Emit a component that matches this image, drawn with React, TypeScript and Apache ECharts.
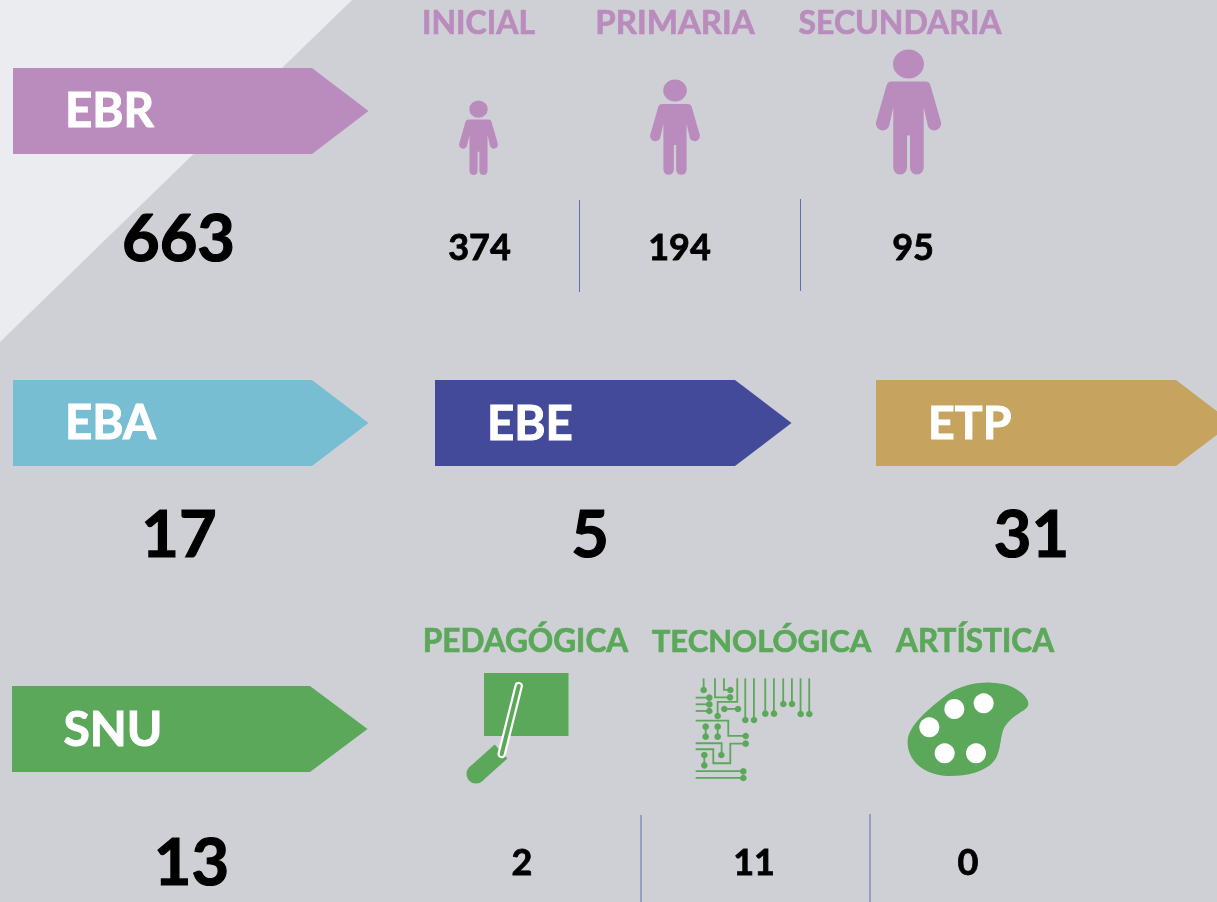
import React, { useEffect, useRef } from "react";
import * as echarts from "echarts";

const arrowLabels = ["EBR", "EBA", "EBE", "ETP", "SNU"];
const arrowTotals = [663, 17, 5, 31, 13];
const ebrLevels = ["INICIAL", "PRIMARIA", "SECUNDARIA"];
const ebrValues = [374, 194, 95];
const snuLevels = ["PEDAGÓGICA", "TECNOLÓGICA", "ARTÍSTICA"];
const snuValues = [2, 11, 0];

const BG = "#CFD0D5";
const LIGHT = "#EBECEF";
const PURPLE = "#BA8CBE";
const TEAL = "#78BED2";
const BLUE = "#444A9A";
const GOLD = "#C6A45F";
const GREEN = "#5BA85A";
const RULE = "#5F6FB0";
const FONT = "Lato";

const PERSON =
  "M-15.5 14.5A15.5 14.5 0 1 1 15.5 14.5A15.5 14.5 0 1 1 -15.5 14.5Z" +
  "M-17 32L17 32Q21 32 22 36L32 71A6.8 6.8 0 0 1 19.5 77L15.2 58L15.2 118.5A6.9 7.5 0 0 1 1.5 118.5L1.5 86L-1.5 86L-1.5 118.5A6.9 7.5 0 0 1 -15.2 118.5L-15.2 58L-19.5 77A6.8 6.8 0 0 1 -32 71L-22 36Q-21 32 -17 32Z";
const PALETTE =
  "M53 212C55 170 110 120 170 75C215 42 280 30 340 42C385 52 420 85 415 105C410 125 370 130 345 170C330 195 335 235 318 265C295 305 230 320 170 318C100 315 50 270 53 212Z";

echarts.graphic.registerShape("person", echarts.graphic.extendPath(PERSON, {}));
echarts.graphic.registerShape("palette", echarts.graphic.extendPath(PALETTE, {}));

const circuitLines: number[][][] = [
  [[71, 55], [71, 90]],
  [[105, 55], [105, 112], [150, 112]],
  [[132, 55], [132, 90], [151, 90]],
  [[172, 55], [172, 126], [113, 126], [113, 168]],
  [[133, 147], [174, 147]],
  [[196, 55], [196, 180]],
  [[222, 55], [222, 180]],
  [[256, 55], [256, 161]],
  [[282, 55], [282, 161]],
  [[310, 55], [310, 132]],
  [[336, 55], [336, 132]],
  [[362, 55], [362, 162]],
  [[388, 55], [388, 162]],
  [[47, 113], [88, 113]],
  [[47, 133], [88, 133]],
  [[47, 153], [88, 153]],
  [[47, 182], [145, 182], [145, 228], [197, 228]],
  [[77, 200], [77, 230]],
  [[113, 200], [113, 230]],
  [[47, 250], [125, 250], [125, 285]],
  [[47, 268], [100, 268], [100, 310], [151, 310], [151, 251], [197, 251]],
  [[73, 285], [73, 316]],
  [[47, 334], [190, 334]],
  [[47, 354], [190, 354]],
];
const circuitDots: number[][] = [
  [71, 90], [150, 112], [151, 90], [113, 168], [133, 147], [174, 147],
  [196, 180], [222, 180], [256, 161], [282, 161], [310, 132], [336, 132],
  [362, 162], [388, 162], [88, 113], [88, 133], [88, 153], [197, 228],
  [77, 200], [77, 230], [113, 200], [113, 230], [124, 285], [197, 251],
  [73, 285], [73, 316], [190, 334], [190, 354],
];

const arrow = (x: number, y: number, w: number, tip: number, h: number, fill: string) => ({
  type: "polygon",
  shape: { points: [[x, y], [x + w, y], [x + w + tip, y + h / 2], [x + w, y + h], [x, y + h]] },
  style: { fill },
});
const text = (t: string | number, x: number, y: number, size: number, fill: string, align = "center", bold = 0.7) => ({
  type: "text",
  x,
  y,
  z: 5,
  style: {
    text: String(t),
    fill,
    stroke: fill,
    lineWidth: bold,
    font: `700 ${size}px ${FONT}`,
    textAlign: align,
    textVerticalAlign: "middle",
  },
});
const rule = (x: number, y1: number, y2: number) => ({
  type: "line",
  shape: { x1: x, y1, x2: x, y2 },
  style: { stroke: RULE, lineWidth: 1 },
});

function buildGraphics() {
  const g: any[] = [];
  g.push({ type: "rect", shape: { x: 0, y: 0, width: 1217, height: 902 }, style: { fill: BG } });
  g.push({ type: "polygon", shape: { points: [[0, 0], [352, 0], [0, 342]] }, style: { fill: LIGHT } });

  g.push(arrow(13, 68, 299, 56.5, 86, PURPLE));
  g.push(arrow(13, 380, 299, 56.5, 86, TEAL));
  g.push(arrow(435, 380, 300, 56.5, 86, BLUE));
  g.push(arrow(876, 380, 300, 56.5, 86, GOLD));
  g.push(arrow(12, 686, 298, 57.5, 86, GREEN));

  const labelPos = [[65, 108.5], [65, 420], [487, 421], [928, 421], [63.5, 727.5]];
  const labelSizes = [47.5, 47.5, 47.5, 46.5, 48];
  arrowLabels.forEach((l, i) => g.push(text(l, labelPos[i][0], labelPos[i][1], labelSizes[i], "#FFFFFF", "left", 1)));
  const totalPos = [[178.5, 236], [179, 531.5], [590, 531.5], [1031.5, 531.5], [191.5, 860]];
  arrowTotals.forEach((v, i) => g.push(text(v, totalPos[i][0], totalPos[i][1], 65, "#000000", "center", 1.2)));

  const ebrX = [478.5, 675, 900];
  const ebrY = [21.5, 21, 21.5];
  const ebrSizes = [32, 33, 32];
  ebrLevels.forEach((l, i) => g.push(text(l, ebrX[i], ebrY[i], ebrSizes[i], PURPLE)));
  const ebrNumX = [479.5, 679.5, 913];
  ebrValues.forEach((v, i) => g.push(text(v, ebrNumX[i], 246, 36, "#000000", "center", 0.8)));
  const persons = [[478.5, 100.5, 0.595], [675, 79.5, 0.762], [908.5, 49.5, 1]];
  persons.forEach(([x, y, s]) =>
    g.push({ type: "person", x, y, scaleX: s, scaleY: s, style: { fill: PURPLE } })
  );
  g.push(rule(579.5, 200, 292), rule(800.5, 199, 291));

  const snuX = [525.5, 761.5, 975];
  const snuSizes = [31.5, 31, 31.5];
  snuLevels.forEach((l, i) => g.push(text(l, snuX[i], 639.5, snuSizes[i], GREEN)));
  const snuNumX = [522, 754, 968];
  snuValues.forEach((v, i) => g.push(text(v, snuNumX[i], 861, 36, "#000000", "center", 0.8)));
  g.push(rule(641, 815, 902), rule(870, 814, 902));

  // pedagógica icon
  g.push({ type: "rect", shape: { x: 484, y: 673, width: 84.5, height: 63 }, style: { fill: GREEN } });
  g.push({
    type: "line",
    shape: { x1: 501, y1: 751.5, x2: 476, y2: 774 },
    style: { stroke: GREEN, lineWidth: 19, lineCap: "butt" },
  });
  g.push({ type: "circle", shape: { cx: 476, cy: 774, r: 9.5 }, style: { fill: GREEN } });
  g.push({
    type: "line",
    shape: { x1: 518.7, y1: 686, x2: 501.7, y2: 754 },
    style: { stroke: "#FFFFFF", lineWidth: 8.5, lineCap: "round" },
  });
  g.push({
    type: "line",
    shape: { x1: 518.7, y1: 686, x2: 501.7, y2: 754 },
    style: { stroke: GREEN, lineWidth: 4, lineCap: "round" },
  });

  // tecnológica icon
  circuitLines.forEach((pts) =>
    g.push({
      type: "polyline",
      x: 680,
      y: 660,
      scaleX: 1 / 3,
      scaleY: 1 / 3,
      shape: { points: pts },
      style: { stroke: GREEN, fill: "none", lineWidth: 5.4 },
    })
  );
  circuitDots.forEach(([cx, cy]) =>
    g.push({ type: "circle", shape: { cx: 680 + cx / 3, cy: 660 + cy / 3, r: 3.3 }, style: { fill: GREEN } })
  );

  // artística icon
  g.push({ type: "palette", x: 890, y: 670, scaleX: 1 / 3, scaleY: 1 / 3, style: { fill: GREEN } });
  const holes = [[118, 172], [193, 117], [281, 100], [164, 250], [258, 250]];
  holes.forEach(([cx, cy]) =>
    g.push({ type: "circle", shape: { cx: 890 + cx / 3, cy: 670 + cy / 3, r: 10 }, style: { fill: "#FFFFFF" } })
  );
  return g;
}

export default function App() {
  const ref = useRef<HTMLDivElement>(null);
  useEffect(() => {
    document.body.style.margin = "0";
    document.body.style.overflow = "hidden";
    const chart = echarts.init(ref.current!, null, { renderer: "svg" });
    chart.setOption({ animation: false, graphic: { elements: buildGraphics() } });
    return () => chart.dispose();
  }, []);
  return <div ref={ref} style={{ position: "fixed", left: 0, top: 0, width: 1217, height: 902 }} />;
}
